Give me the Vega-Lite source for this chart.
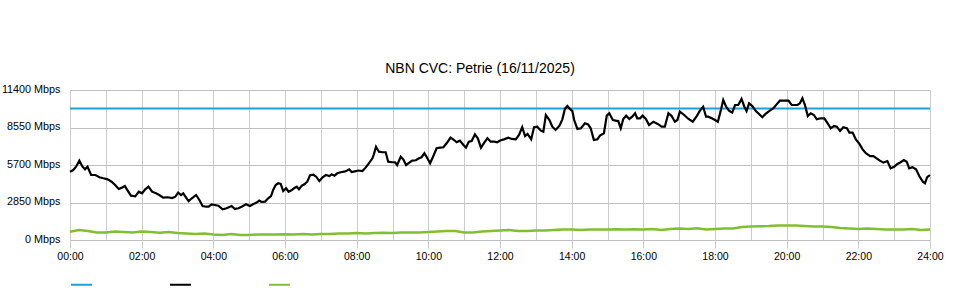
{
  "$schema": "https://vega.github.io/schema/vega-lite/v6.json",
  "autosize": "none",
  "width": 860,
  "height": 150,
  "padding": {"left": 70, "top": 90, "right": 30, "bottom": 60},
  "background": "white",
  "config": {
    "view": {"stroke": null},
    "font": "Liberation Sans",
    "axis": {"labelFont": "Liberation Sans", "labelFontSize": 10.5, "labelColor": "#000", "domain": false}
  },
  "title": {"text": "NBN CVC: Petrie (16/11/2025)", "fontSize": 14, "fontWeight": "normal", "font": "Liberation Sans", "color": "#000", "anchor": "middle", "dx": -20, "offset": 7},
  "datasets": {
    "capacity": [{"h": 0, "v": 10000}, {"h": 24, "v": 10000}],
    "download": [
      {"h":0.00,"v":5190},{"h":0.09,"v":5320},{"h":0.17,"v":5570},{"h":0.26,"v":6030},{"h":0.35,"v":5570},{"h":0.42,"v":5370},{"h":0.49,"v":5570},{"h":0.59,"v":4940},{"h":0.71,"v":4940},{"h":0.82,"v":4770},
      {"h":0.93,"v":4690},{"h":1.05,"v":4610},{"h":1.16,"v":4430},{"h":1.26,"v":4180},{"h":1.36,"v":3880},{"h":1.45,"v":3980},{"h":1.53,"v":4100},{"h":1.61,"v":3750},{"h":1.70,"v":3370},{"h":1.82,"v":3320},
      {"h":1.92,"v":3670},{"h":2.01,"v":3550},{"h":2.10,"v":3850},{"h":2.19,"v":4050},{"h":2.29,"v":3670},{"h":2.40,"v":3550},{"h":2.49,"v":3420},{"h":2.60,"v":3220},{"h":2.73,"v":3250},{"h":2.85,"v":3190},
      {"h":2.94,"v":3290},{"h":3.02,"v":3600},{"h":3.10,"v":3420},{"h":3.16,"v":3550},{"h":3.24,"v":3220},{"h":3.31,"v":2960},{"h":3.40,"v":3170},{"h":3.52,"v":3420},{"h":3.61,"v":3040},{"h":3.70,"v":2580},
      {"h":3.80,"v":2530},{"h":3.87,"v":2530},{"h":3.95,"v":2710},{"h":4.04,"v":2660},{"h":4.14,"v":2610},{"h":4.26,"v":2330},{"h":4.37,"v":2410},{"h":4.51,"v":2580},{"h":4.60,"v":2360},{"h":4.70,"v":2410},
      {"h":4.79,"v":2530},{"h":4.91,"v":2710},{"h":5.02,"v":2580},{"h":5.12,"v":2740},{"h":5.21,"v":2840},{"h":5.28,"v":2990},{"h":5.35,"v":2890},{"h":5.44,"v":2910},{"h":5.53,"v":3170},{"h":5.61,"v":3340},
      {"h":5.67,"v":3800},{"h":5.74,"v":4180},{"h":5.81,"v":4310},{"h":5.88,"v":4260},{"h":5.95,"v":3720},{"h":6.03,"v":3930},{"h":6.10,"v":3670},{"h":6.19,"v":3800},{"h":6.25,"v":3930},{"h":6.33,"v":4050},
      {"h":6.39,"v":3850},{"h":6.47,"v":4130},{"h":6.54,"v":4230},{"h":6.62,"v":4430},{"h":6.70,"v":4920},{"h":6.79,"v":4960},{"h":6.87,"v":4810},{"h":6.96,"v":4480},{"h":7.05,"v":4770},{"h":7.14,"v":4940},
      {"h":7.24,"v":4860},{"h":7.30,"v":4990},{"h":7.38,"v":4890},{"h":7.46,"v":5070},{"h":7.55,"v":5150},{"h":7.65,"v":5190},{"h":7.72,"v":5270},{"h":7.79,"v":5370},{"h":7.86,"v":5170},{"h":7.95,"v":5220},
      {"h":8.05,"v":5280},{"h":8.16,"v":5240},{"h":8.25,"v":5500},{"h":8.34,"v":5830},{"h":8.44,"v":6210},{"h":8.48,"v":6510},{"h":8.54,"v":7090},{"h":8.62,"v":6710},{"h":8.72,"v":6670},{"h":8.81,"v":6670},
      {"h":8.88,"v":5950},{"h":8.99,"v":5910},{"h":9.07,"v":5910},{"h":9.13,"v":5700},{"h":9.23,"v":6330},{"h":9.30,"v":6130},{"h":9.38,"v":5700},{"h":9.47,"v":5880},{"h":9.55,"v":6030},{"h":9.65,"v":6060},
      {"h":9.74,"v":6210},{"h":9.81,"v":6290},{"h":9.89,"v":6590},{"h":9.95,"v":6330},{"h":10.05,"v":5830},{"h":10.14,"v":6380},{"h":10.23,"v":6970},{"h":10.33,"v":7020},{"h":10.42,"v":7050},{"h":10.51,"v":7350},
      {"h":10.62,"v":7780},{"h":10.72,"v":7600},{"h":10.79,"v":7430},{"h":10.88,"v":7550},{"h":10.98,"v":7220},{"h":11.05,"v":7020},{"h":11.13,"v":7470},{"h":11.21,"v":7520},{"h":11.30,"v":8030},{"h":11.38,"v":7730},
      {"h":11.47,"v":7020},{"h":11.56,"v":7400},{"h":11.65,"v":7730},{"h":11.74,"v":7470},{"h":11.84,"v":7470},{"h":11.92,"v":7430},{"h":12.02,"v":7580},{"h":12.11,"v":7650},{"h":12.23,"v":7780},{"h":12.33,"v":7680},
      {"h":12.44,"v":7650},{"h":12.53,"v":7980},{"h":12.62,"v":8570},{"h":12.70,"v":7900},{"h":12.77,"v":8060},{"h":12.87,"v":7650},{"h":12.95,"v":8570},{"h":13.04,"v":8610},{"h":13.14,"v":8310},{"h":13.21,"v":8230},
      {"h":13.28,"v":9500},{"h":13.38,"v":9120},{"h":13.46,"v":8610},{"h":13.55,"v":8360},{"h":13.66,"v":8690},{"h":13.74,"v":9170},{"h":13.81,"v":9960},{"h":13.88,"v":10180},{"h":13.95,"v":9960},{"h":14.02,"v":9800},
      {"h":14.07,"v":9120},{"h":14.16,"v":8440},{"h":14.26,"v":8490},{"h":14.37,"v":8870},{"h":14.46,"v":8790},{"h":14.53,"v":8490},{"h":14.62,"v":7600},{"h":14.72,"v":7650},{"h":14.79,"v":7930},{"h":14.90,"v":8110},
      {"h":14.98,"v":9450},{"h":15.05,"v":9630},{"h":15.15,"v":9120},{"h":15.23,"v":9070},{"h":15.30,"v":9040},{"h":15.37,"v":8490},{"h":15.44,"v":9200},{"h":15.52,"v":9450},{"h":15.61,"v":9200},{"h":15.69,"v":9370},
      {"h":15.77,"v":9630},{"h":15.83,"v":9250},{"h":15.91,"v":9250},{"h":15.98,"v":9450},{"h":16.07,"v":9200},{"h":16.16,"v":8740},{"h":16.28,"v":8990},{"h":16.40,"v":8820},{"h":16.51,"v":8610},{"h":16.60,"v":8610},
      {"h":16.70,"v":9630},{"h":16.79,"v":9420},{"h":16.88,"v":8990},{"h":16.95,"v":9120},{"h":17.02,"v":9750},{"h":17.14,"v":9500},{"h":17.26,"v":9200},{"h":17.38,"v":8990},{"h":17.49,"v":9420},{"h":17.58,"v":9830},
      {"h":17.67,"v":10130},{"h":17.75,"v":9370},{"h":17.81,"v":9370},{"h":17.91,"v":9250},{"h":18.00,"v":9120},{"h":18.08,"v":8990},{"h":18.17,"v":9930},{"h":18.23,"v":10640},{"h":18.31,"v":10130},{"h":18.39,"v":9830},
      {"h":18.48,"v":9680},{"h":18.56,"v":10260},{"h":18.65,"v":10260},{"h":18.74,"v":10720},{"h":18.82,"v":10130},{"h":18.88,"v":9800},{"h":18.95,"v":10390},{"h":19.04,"v":10180},{"h":19.14,"v":9800},{"h":19.23,"v":9580},
      {"h":19.32,"v":9330},{"h":19.41,"v":9580},{"h":19.53,"v":9830},{"h":19.63,"v":10010},{"h":19.72,"v":10310},{"h":19.81,"v":10590},{"h":19.95,"v":10590},{"h":20.05,"v":10590},{"h":20.14,"v":10260},{"h":20.20,"v":10260},
      {"h":20.30,"v":10260},{"h":20.37,"v":10390},{"h":20.44,"v":10770},{"h":20.51,"v":10260},{"h":20.59,"v":9420},{"h":20.67,"v":9630},{"h":20.76,"v":9500},{"h":20.84,"v":9170},{"h":20.95,"v":9250},{"h":21.05,"v":9250},
      {"h":21.13,"v":8920},{"h":21.23,"v":8490},{"h":21.32,"v":8660},{"h":21.40,"v":8610},{"h":21.49,"v":8280},{"h":21.58,"v":8570},{"h":21.68,"v":8490},{"h":21.75,"v":8160},{"h":21.84,"v":8160},{"h":21.93,"v":7650},
      {"h":22.03,"v":7300},{"h":22.12,"v":6890},{"h":22.21,"v":6590},{"h":22.33,"v":6380},{"h":22.42,"v":6380},{"h":22.51,"v":6210},{"h":22.60,"v":6030},{"h":22.70,"v":5880},{"h":22.81,"v":6000},{"h":22.90,"v":5450},
      {"h":23.00,"v":5570},{"h":23.09,"v":5780},{"h":23.18,"v":5910},{"h":23.27,"v":6080},{"h":23.35,"v":5950},{"h":23.42,"v":5450},{"h":23.51,"v":5530},{"h":23.61,"v":5370},{"h":23.70,"v":4860},{"h":23.80,"v":4430},
      {"h":23.86,"v":4310},{"h":23.92,"v":4770},{"h":24.00,"v":4940}
    ],
    "upload": [
      {"h":0,"v":630},{"h":0.25,"v":760},{"h":0.5,"v":680},{"h":0.75,"v":570},{"h":1,"v":570},{"h":1.25,"v":650},{"h":1.5,"v":610},{"h":1.75,"v":570},{"h":2,"v":650},{"h":2.25,"v":610},
      {"h":2.5,"v":560},{"h":2.75,"v":610},{"h":3,"v":530},{"h":3.25,"v":490},{"h":3.5,"v":460},{"h":3.75,"v":490},{"h":4,"v":420},{"h":4.25,"v":380},{"h":4.5,"v":460},{"h":4.75,"v":380},
      {"h":5,"v":380},{"h":5.25,"v":420},{"h":5.5,"v":420},{"h":5.75,"v":420},{"h":6,"v":440},{"h":6.25,"v":420},{"h":6.5,"v":460},{"h":6.75,"v":420},{"h":7,"v":460},{"h":7.25,"v":460},
      {"h":7.5,"v":490},{"h":7.75,"v":490},{"h":8,"v":530},{"h":8.25,"v":490},{"h":8.5,"v":530},{"h":8.75,"v":560},{"h":9,"v":530},{"h":9.25,"v":570},{"h":9.5,"v":570},{"h":9.75,"v":570},
      {"h":10,"v":610},{"h":10.25,"v":650},{"h":10.5,"v":680},{"h":10.75,"v":680},{"h":11,"v":570},{"h":11.25,"v":570},{"h":11.5,"v":650},{"h":11.75,"v":680},{"h":12,"v":720},{"h":12.25,"v":760},
      {"h":12.5,"v":680},{"h":12.75,"v":680},{"h":13,"v":720},{"h":13.25,"v":720},{"h":13.5,"v":760},{"h":13.75,"v":800},{"h":14,"v":800},{"h":14.25,"v":760},{"h":14.5,"v":800},{"h":14.75,"v":800},
      {"h":15,"v":800},{"h":15.25,"v":810},{"h":15.5,"v":800},{"h":15.75,"v":810},{"h":16,"v":800},{"h":16.25,"v":840},{"h":16.5,"v":760},{"h":16.75,"v":840},{"h":17,"v":870},{"h":17.25,"v":840},
      {"h":17.5,"v":890},{"h":17.75,"v":800},{"h":18,"v":840},{"h":18.25,"v":870},{"h":18.5,"v":870},{"h":18.75,"v":990},{"h":19,"v":1030},{"h":19.25,"v":1040},{"h":19.5,"v":1060},{"h":19.75,"v":1100},
      {"h":20,"v":1100},{"h":20.25,"v":1100},{"h":20.5,"v":1060},{"h":20.75,"v":1030},{"h":21,"v":1030},{"h":21.25,"v":990},{"h":21.5,"v":910},{"h":21.75,"v":870},{"h":22,"v":840},{"h":22.25,"v":870},
      {"h":22.5,"v":840},{"h":22.75,"v":800},{"h":23,"v":800},{"h":23.25,"v":800},{"h":23.5,"v":840},{"h":23.75,"v":760},{"h":24,"v":800}
    ]
  },
  "encoding": {
    "x": {
      "field": "h", "type": "quantitative",
      "scale": {"domain": [0, 24], "nice": false, "zero": false},
      "axis": {
        "title": null,
        "values": [0,1,2,3,4,5,6,7,8,9,10,11,12,13,14,15,16,17,18,19,20,21,22,23,24],
        "labelExpr": "datum.value % 2 == 0 ? (datum.value < 10 ? '0' : '') + datum.value + ':00' : ''",
        "labelFlush": false,
        "labelOverlap": false,
        "labelPadding": 3,
        "grid": true,
        "gridColor": "#cccccc",
        "gridWidth": 1,
        "tickColor": "#cccccc",
        "tickSize": 8,
        "tickOpacity": {"condition": {"test": "datum.value % 2 == 1", "value": 0}, "value": 1}
      }
    },
    "y": {
      "field": "v", "type": "quantitative",
      "scale": {"domain": [0, 11400], "nice": false},
      "axis": {
        "title": null,
        "values": [0, 2850, 5700, 8550, 11400],
        "labelExpr": "datum.value + ' Mbps'",
        "ticks": false,
        "labelPadding": 10,
        "labelFontSize": 10.8,
        "labelBaseline": "middle",
        "labelOffset": -1,
        "grid": true,
        "gridColor": "#c0c0c0",
        "gridWidth": 1.2
      }
    },
    "color": {
      "type": "nominal",
      "scale": {"domain": ["Capacity", "Download", "Upload"], "range": ["#1ea0dc", "#000000", "#82be32"]},
      "legend": {
        "title": null,
        "orient": "none",
        "legendX": 0,
        "legendY": 183,
        "direction": "horizontal",
        "symbolType": "stroke",
        "symbolSize": 441,
        "symbolStrokeWidth": 2,
        "labelExpr": "''",
        "labelOffset": 0,
        "columnPadding": 70,
        "padding": 0
      }
    }
  },
  "layer": [
    {"data": {"name": "capacity"}, "mark": {"type": "line", "strokeWidth": 2}, "encoding": {"color": {"datum": "Capacity"}}},
    {"data": {"name": "upload"}, "mark": {"type": "line", "strokeWidth": 2.5}, "encoding": {"color": {"datum": "Upload"}}},
    {"data": {"name": "download"}, "mark": {"type": "line", "strokeWidth": 2.2}, "encoding": {"color": {"datum": "Download"}}}
  ]
}
